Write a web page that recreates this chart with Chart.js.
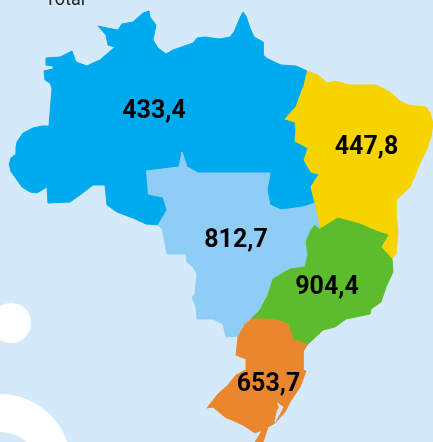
<!DOCTYPE html>
<html lang="pt-BR">
<head>
<meta charset="UTF-8">
<title>Total por região</title>
<script src="https://cdn.jsdelivr.net/npm/chart.js"></script>
<style>
  html, body { margin: 0; padding: 0; background: #d4eafb; overflow: hidden; }
  #wrap { width: 433px; height: 442px; position: relative; }
</style>
</head>
<body>
<div id="wrap"><canvas id="chart"></canvas></div>
<script>
const regions = ['Norte', 'Nordeste', 'Centro-Oeste', 'Sudeste', 'Sul'];
const values = ['433,4', '447,8', '812,7', '904,4', '653,7'];
const colors = ['#00aaee', '#f7d300', '#8ecdf5', '#5cbc2b', '#ea872c'];
const labelX = [154, 366.5, 236, 327, 268.5];
const labelY = [112, 147.5, 240.5, 288, 385];
const title = 'Total';

const norte = [[9,165],[11,158],[16,154],[16,147],[17,142],[23,133],[33,128],[42,126],[49,126],[52,88],[50,83],[45,80],[44,71],[53,69],[53,66],[46,65],[46,58],[60,57],[72,51],[76,62],[87,66],[93,63],[100,60],[108,53],[115,47],[108,45],[106,35],[98,26],[107,28],[118,30],[122,24],[133,22],[143,13],[149,11],[150,17],[156,25],[153,40],[158,48],[166,54],[173,50],[193,43],[197,38],[205,37],[220,39],[230,37],[234,32],[239,20],[243,12],[246,16],[250,28],[254,37],[263,42],[263,55],[268,59],[281,65],[296,66],[307,71],[303,88],[296,107],[285,119],[295,122],[296,130],[295,141],[308,148],[304,160],[311,172],[319,174],[311,187],[315,203],[303,207],[281,210],[270,205],[267,190],[270,173],[198,173],[187,167],[182,152],[179,167],[146,171],[148,194],[163,197],[165,203],[167,210],[160,225],[146,224],[133,218],[117,212],[107,205],[105,185],[93,185],[80,195],[70,202],[48,203],[47,187],[37,193],[30,192],[22,187],[10,170]];
const centroOeste = [[146,171],[179,167],[182,152],[187,167],[198,173],[270,173],[267,190],[270,205],[281,210],[303,207],[315,203],[316,212],[320,229],[315,225],[311,230],[306,242],[308,254],[305,267],[290,269],[273,279],[268,295],[260,310],[251,319],[243,325],[238,336],[226,337],[223,324],[213,319],[197,319],[196,307],[192,297],[195,294],[197,274],[193,267],[187,262],[186,254],[167,254],[165,243],[162,229],[158,225],[167,210],[165,203],[163,197],[148,194]];
const nordeste = [[307,71],[318,75],[327,83],[335,81],[350,85],[376,85],[390,92],[400,101],[408,105],[426,107],[430,113],[433,123],[431,137],[426,151],[420,163],[416,173],[410,187],[396,200],[396,212],[398,232],[396,254],[392,259],[381,247],[388,235],[376,231],[360,224],[338,218],[320,229],[316,212],[315,203],[311,187],[319,174],[311,172],[304,160],[308,148],[295,141],[296,130],[295,122],[285,119],[296,107],[303,88]];
const sudeste = [[320,229],[338,218],[360,224],[376,231],[388,235],[381,247],[392,259],[393,272],[386,287],[381,302],[371,309],[370,314],[346,319],[335,327],[323,330],[307,345],[301,342],[293,340],[288,324],[276,320],[263,319],[251,319],[260,310],[268,295],[273,279],[290,269],[305,267],[308,254],[306,242],[311,230],[315,225]];
const sul = [[251,319],[263,319],[276,320],[288,324],[293,340],[301,342],[307,345],[303,352],[303,370],[306,371],[300,387],[290,402],[285,412],[275,423],[268,427],[263,442],[255,442],[259,436],[262,430],[255,433],[243,425],[225,417],[213,407],[207,408],[218,394],[228,385],[236,375],[246,370],[246,359],[236,355],[238,337],[245,324]];
const lagoa = [[277,403],[283,407],[280,413],[275,422],[277,412],[279,408]];
const outlines = [norte, nordeste, centroOeste, sudeste, sul];

const bgColor = '#d4eafb';
const decorCircles = [{x: 11, y: 323, r: 20}, {x: 0, y: 465, r: 71}];
const decorInner = [{x: 0, y: 473, r: 41}];

function toPoints(list) {
    return list.map(p => ({x: p[0], y: p[1]}));
}

const datasets = outlines.map((o, i) => ({
    type: 'scatter',
    label: regions[i],
    data: toPoints(o),
    showLine: true,
    fill: 'shape',
    backgroundColor: colors[i],
    borderColor: colors[i],
    borderWidth: 1,
    pointRadius: 0,
    tension: 0
}));
datasets.push({
    type: 'scatter', label: 'Lagoa', data: toPoints(lagoa), showLine: true, fill: 'shape',
    backgroundColor: bgColor, borderColor: bgColor, borderWidth: 1, pointRadius: 0
});
datasets.unshift(
    {type: 'bubble', label: 'bg2', data: decorInner, backgroundColor: bgColor, borderWidth: 0},
    {type: 'bubble', label: 'bg1', data: decorCircles, backgroundColor: '#ffffff', borderWidth: 0}
);
// lower order paints on top, so later regions go over earlier ones
datasets.forEach((d, i) => { d.order = -i; });
datasets[0].order = 1;
datasets[1].order = 2;

const textPlugin = {
    id: 'textLabels',
    afterDatasetsDraw(chart) {
        const ctx = chart.ctx;
        const xs = chart.scales.x, ys = chart.scales.y;
        ctx.save();
        ctx.fillStyle = '#000';
        ctx.textAlign = 'center';
        ctx.textBaseline = 'middle';
        ctx.font = '700 25px Roboto';
        values.forEach((v, i) => {
            ctx.fillText(v, xs.getPixelForValue(labelX[i]), ys.getPixelForValue(labelY[i]));
        });
        ctx.fillStyle = '#222';
        ctx.font = '400 18px Roboto';
        ctx.textAlign = 'left';
        ctx.textBaseline = 'alphabetic';
        ctx.fillText(title, xs.getPixelForValue(45), ys.getPixelForValue(5));
        ctx.restore();
    }
};

new Chart(document.getElementById('chart'), {
    data: {datasets},
    plugins: [textPlugin],
    options: {
        responsive: true,
        maintainAspectRatio: false,
        animation: false,
        layout: {padding: 0, autoPadding: false},
        plugins: {legend: {display: false}, tooltip: {enabled: false}},
        scales: {
            x: {type: 'linear', min: 0, max: 433, display: false},
            y: {type: 'linear', min: 0, max: 442, reverse: true, display: false}
        }
    }
});
</script>
</body>
</html>
